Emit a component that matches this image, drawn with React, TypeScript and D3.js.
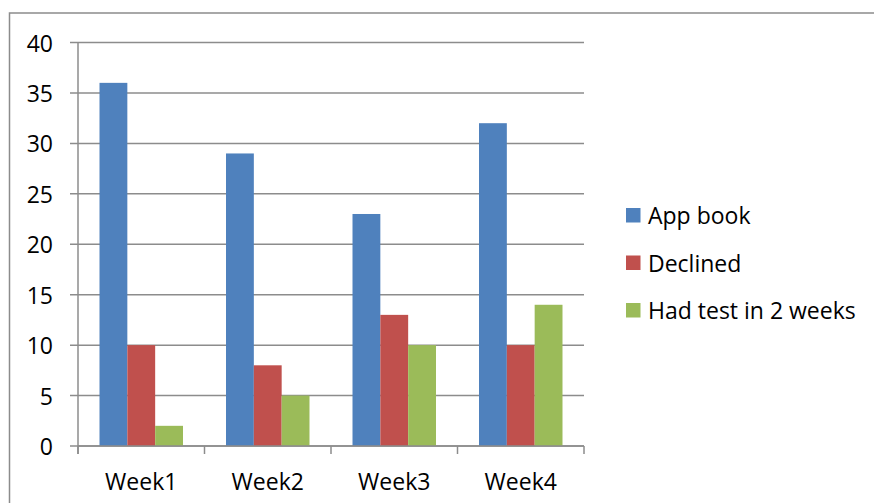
import React, { useEffect, useRef } from 'react';
import * as d3 from 'd3';

// chart data
const weeks = ['Week1', 'Week2', 'Week3', 'Week4'];
const seriesNames = ['App book', 'Declined', 'Had test in 2 weeks'];
const appBook = [36, 29, 23, 32];
const declined = [10, 8, 13, 10];
const hadTest = [2, 5, 10, 14];
const yTicks = [0, 5, 10, 15, 20, 25, 30, 35, 40];
const colors = ['#4F81BD', '#C0504D', '#9BBB59'];

const FONT = '"Open Sans", sans-serif';
const FONT_SIZE = '23px';

const App: React.FC = () => {
    const svgRef = useRef<SVGSVGElement>(null);

    useEffect(() => {
        if (!svgRef.current) return;
        const svg = d3.select(svgRef.current);
        svg.selectAll('*').remove();

        const width = 874;
        const height = 503;
        const left = 78;
        const right = 584;
        const top = 42.5;
        const bottom = 446;
        const gridColor = '#8C8C8C';

        const seriesValues = [appBook, declined, hadTest];

        // outer chart border (only top and left visible in frame)
        svg.append('rect')
            .attr('x', 9.5)
            .attr('y', 13)
            .attr('width', width + 20)
            .attr('height', height + 20)
            .attr('fill', 'white')
            .attr('stroke', gridColor)
            .attr('stroke-width', 1.5);

        const x = d3.scaleBand<string>()
            .domain(weeks)
            .range([left, right])
            .paddingInner(0.34)
            .paddingOuter(0.17);

        const xSeries = d3.scaleBand<string>()
            .domain(seriesNames)
            .range([0, x.bandwidth()]);

        const y = d3.scaleLinear()
            .domain([0, 40])
            .range([bottom, top]);

        // gridlines + y labels
        yTicks.forEach(t => {
            svg.append('line')
                .attr('x1', left - 8)
                .attr('x2', right)
                .attr('y1', y(t))
                .attr('y2', y(t))
                .attr('stroke', gridColor)
                .attr('stroke-width', 1.5);

            svg.append('text')
                .attr('x', 53)
                .attr('y', y(t))
                .attr('text-anchor', 'end')
                .attr('dominant-baseline', 'central')
                .attr('font-family', FONT)
                .attr('font-size', FONT_SIZE)
                .attr('fill', '#000')
                .text(t);
        });

        // y axis
        svg.append('line')
            .attr('x1', left)
            .attr('x2', left)
            .attr('y1', top)
            .attr('y2', bottom + 8)
            .attr('stroke', gridColor)
            .attr('stroke-width', 1.5);

        // x category tick marks
        const step = (right - left) / weeks.length;
        d3.range(weeks.length + 1).forEach(i => {
            svg.append('line')
                .attr('x1', left + i * step)
                .attr('x2', left + i * step)
                .attr('y1', bottom)
                .attr('y2', bottom + 8)
                .attr('stroke', gridColor)
                .attr('stroke-width', 1.5);
        });

        // bars
        seriesNames.forEach((name, si) => {
            svg.append('g')
                .selectAll('rect')
                .data(seriesValues[si])
                .enter()
                .append('rect')
                .attr('x', (_, i) => (x(weeks[i]) ?? 0) + (xSeries(name) ?? 0))
                .attr('y', d => y(d))
                .attr('width', xSeries.bandwidth())
                .attr('height', d => y(0) - y(d))
                .attr('fill', colors[si]);
        });

        // x axis line drawn over bars
        svg.append('line')
            .attr('x1', left)
            .attr('x2', right)
            .attr('y1', bottom)
            .attr('y2', bottom)
            .attr('stroke', gridColor)
            .attr('stroke-width', 1.5);

        // category labels
        weeks.forEach(w => {
            svg.append('text')
                .attr('x', (x(w) ?? 0) + x.bandwidth() / 2)
                .attr('y', 489.5)
                .attr('text-anchor', 'middle')
                .attr('font-family', FONT)
                .attr('font-size', FONT_SIZE)
                .attr('fill', '#000')
                .text(w);
        });

        // legend
        seriesNames.forEach((name, i) => {
            const ly = 215 + i * 47.5;
            svg.append('rect')
                .attr('x', 626)
                .attr('y', ly - 7)
                .attr('width', 14.5)
                .attr('height', 14.5)
                .attr('fill', colors[i]);
            svg.append('text')
                .attr('x', 648)
                .attr('y', ly)
                .attr('dominant-baseline', 'central')
                .attr('font-family', FONT)
                .attr('font-size', FONT_SIZE)
                .attr('fill', '#000')
                .text(name);
        });
    }, []);

    return (
        <svg
            ref={svgRef}
            width="874"
            height="503"
            style={{ position: 'absolute', left: 0, top: 0, background: 'white' }}
        ></svg>
    );
};

export default App;
